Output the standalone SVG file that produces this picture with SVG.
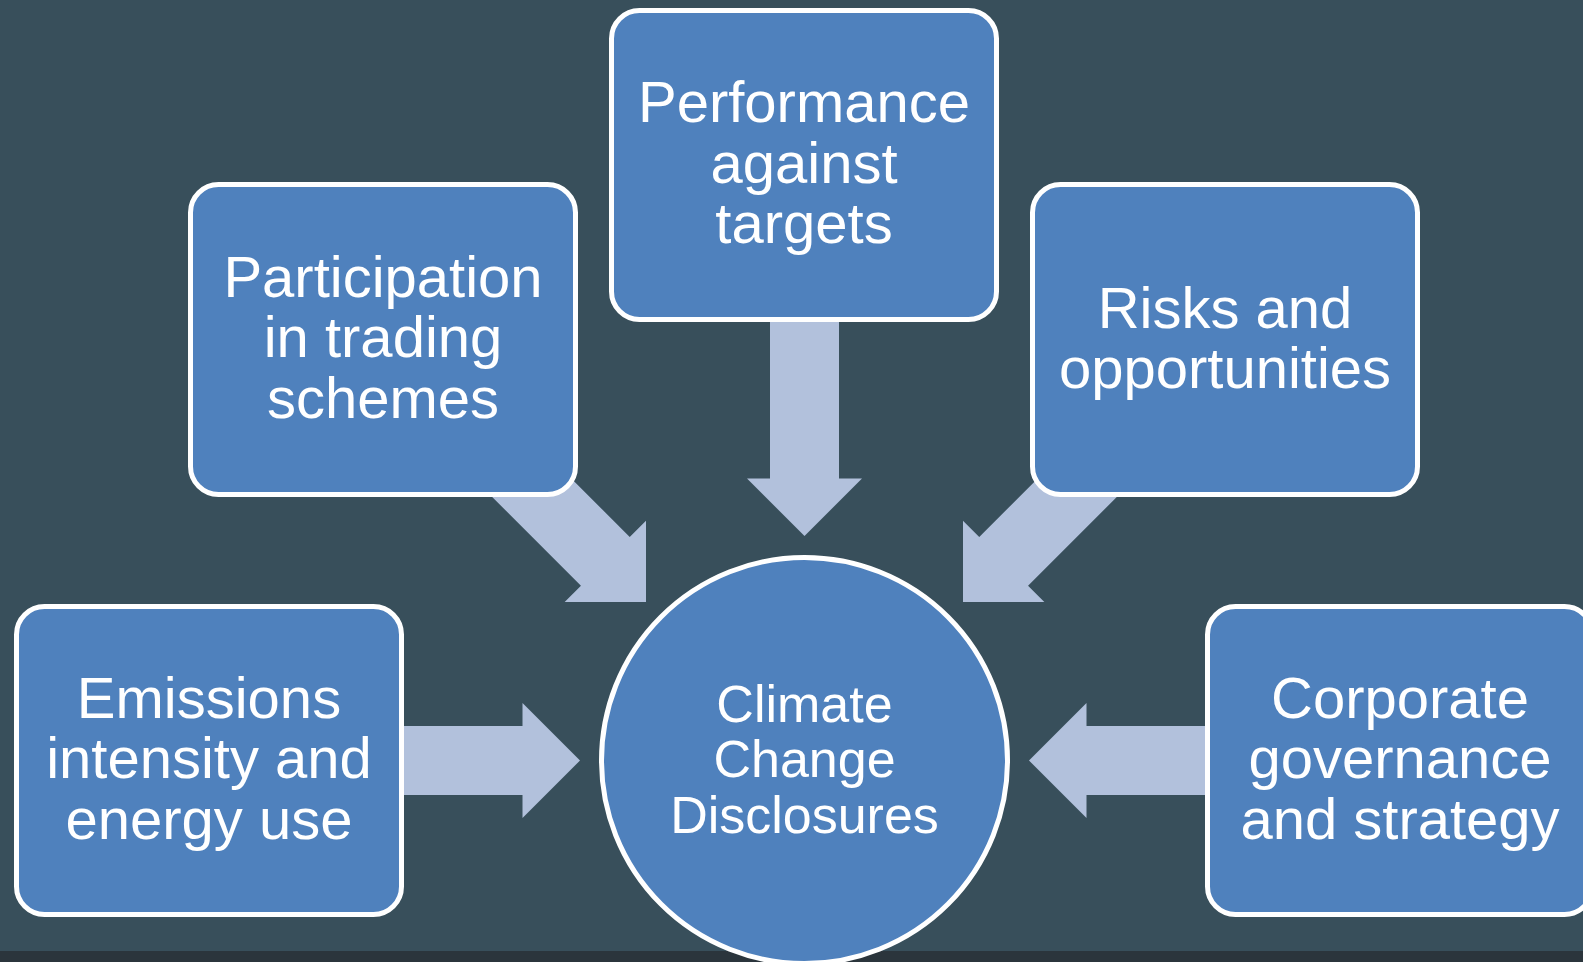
<svg xmlns="http://www.w3.org/2000/svg" width="1583" height="962" viewBox="0 0 1583 962">
<style>
.box{fill:#4f81bd;stroke:#ffffff;stroke-width:5}
.arr{fill:#b2c1dc}
.t{font-family:"Liberation Sans",Arial,sans-serif;font-size:58px;fill:#ffffff;text-anchor:middle}
.tc{font-family:"Liberation Sans",Arial,sans-serif;font-size:52px;fill:#ffffff;text-anchor:middle}
</style>
<defs>
<path id="a185" d="M0,0 L-57.5,-57.5 L-57.5,-34.5 L-185,-34.5 L-185,34.5 L-57.5,34.5 L-57.5,57.5 Z"/>
<path id="a225" d="M0,0 L-57.5,-57.5 L-57.5,-34.5 L-225,-34.5 L-225,34.5 L-57.5,34.5 L-57.5,57.5 Z"/>
<path id="a260" d="M0,0 L-57.5,-57.5 L-57.5,-34.5 L-260,-34.5 L-260,34.5 L-57.5,34.5 L-57.5,57.5 Z"/>
</defs>
<rect x="0" y="0" width="1583" height="962" fill="#384f5b"/>
<rect x="0" y="951" width="1583" height="11" fill="#2b353c"/>
<g id="connectors" class="arr">
<use href="#a185" transform="translate(580,760.5)"/>
<use href="#a185" transform="translate(1029,760.5) rotate(180)"/>
<use href="#a225" transform="translate(804.5,536) rotate(90)"/>
<use href="#a260" transform="translate(646,602) rotate(45)"/>
<use href="#a260" transform="translate(963,602) rotate(135)"/>
</g>
<g id="center">
<circle class="box" cx="804.5" cy="760.5" r="203"/>
<text class="tc" x="804.5" y="721.5">Climate</text>
<text class="tc" x="804.5" y="776.5">Change</text>
<text class="tc" x="804.5" y="832.5">Disclosures</text>
</g>
<g id="performance">
<rect class="box" x="611.5" y="10.5" width="385" height="309" rx="28"/>
<text class="t" x="804" y="122">Performance</text>
<text class="t" x="804" y="182.5">against</text>
<text class="t" x="804" y="243">targets</text>
</g>
<g id="participation">
<rect class="box" x="190.5" y="184.5" width="385" height="310" rx="28"/>
<text class="t" x="383" y="296.5">Participation</text>
<text class="t" x="383" y="357">in trading</text>
<text class="t" x="383" y="417.5">schemes</text>
</g>
<g id="risks">
<rect class="box" x="1032.5" y="184.5" width="385" height="310" rx="28"/>
<text class="t" x="1225" y="327.5">Risks and</text>
<text class="t" x="1225" y="388">opportunities</text>
</g>
<g id="emissions">
<rect class="box" x="16.5" y="606.5" width="385" height="308" rx="28"/>
<text class="t" x="209" y="717.5">Emissions</text>
<text class="t" x="209" y="778">intensity and</text>
<text class="t" x="209" y="838.5">energy use</text>
</g>
<g id="corporate">
<rect class="box" x="1207.5" y="606.5" width="385" height="308" rx="28"/>
<text class="t" x="1400" y="717.5">Corporate</text>
<text class="t" x="1400" y="778">governance</text>
<text class="t" x="1400" y="838.5">and strategy</text>
</g>
</svg>
